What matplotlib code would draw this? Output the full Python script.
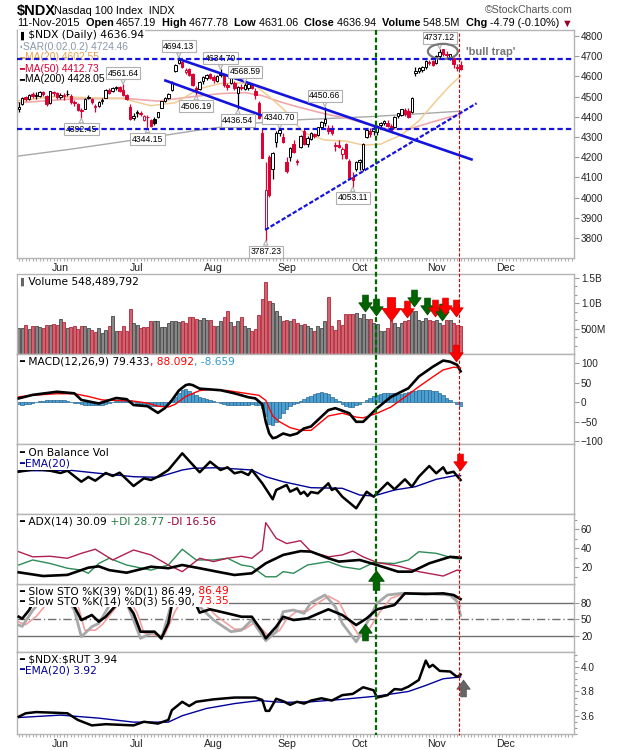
import numpy as np
import pandas as pd
import matplotlib
matplotlib.use('Agg')
import matplotlib.pyplot as plt
import matplotlib.transforms as mtransforms
from matplotlib.path import Path
from matplotlib.patches import Ellipse
from matplotlib.lines import Line2D
from matplotlib.ticker import FixedLocator, MultipleLocator

plt.rcParams['font.family'] = ['DejaVu Sans']

# trading calendar (NYSE holidays in the window)
holidays = ['2015-05-25', '2015-07-03', '2015-09-07', '2015-11-26', '2015-12-25']
cal = pd.bdate_range('2015-05-13', '2015-12-31')
cal = cal[~cal.isin(pd.to_datetime(holidays))]

# daily $NDX candles, 13-May-2015 .. 11-Nov-2015
opens = [4440, 4465, 4500, 4490, 4512, 4505, 4505, 4522, 4505, 4470,
         4520, 4520, 4500, 4505, 4512, 4505, 4475, 4465, 4432, 4440,
         4495, 4490, 4450, 4455, 4478, 4495, 4535, 4530, 4545, 4548,
         4535, 4510, 4450, 4395, 4425, 4420, 4385, 4400, 4385, 4390,
         4400, 4445, 4480, 4495, 4535, 4625, 4665, 4672, 4620, 4635,
         4610, 4545, 4540, 4575, 4590, 4610, 4595, 4578, 4615, 4605,
         4560, 4570, 4570, 4520, 4550, 4540, 4545, 4560, 4530, 4470,
         4320, 3850, 4200, 4140, 4275, 4320, 4300, 4175, 4200, 4265,
         4180, 4250, 4330, 4265, 4290, 4315, 4310, 4350, 4368, 4345,
         4345, 4260, 4262, 4215, 4265, 4180, 4100, 4140, 4175, 4140,
         4300, 4330, 4330, 4325, 4360, 4370, 4370, 4355, 4350, 4405,
         4410, 4435, 4430, 4425, 4615, 4625, 4630, 4645, 4670, 4675,
         4665, 4700, 4735, 4712, 4695, 4690, 4645, 4657.19]
highs = [4472, 4498, 4505, 4515, 4522, 4525, 4530, 4528, 4510, 4530,
         4528, 4525, 4520, 4520, 4532, 4515, 4485, 4470, 4445, 4495,
         4510, 4495, 4462, 4480, 4495, 4540, 4542, 4550, 4552, 4555,
         4561.64, 4515, 4465, 4420, 4432, 4428, 4410, 4410, 4390, 4398,
         4425, 4480, 4500, 4520, 4575, 4660, 4694.13, 4678, 4640, 4640,
         4615, 4555, 4575, 4600, 4610, 4615, 4605, 4605, 4634.70, 4610,
         4568, 4595, 4575, 4555, 4562, 4568.59, 4565, 4565, 4545, 4480,
         4340, 4175, 4210, 4225, 4330, 4340.70, 4320, 4200, 4250, 4285,
         4192, 4310, 4345, 4305, 4325, 4320, 4350, 4378, 4450.66, 4360,
         4360, 4275, 4285, 4250, 4270, 4190, 4125, 4180, 4190, 4270,
         4340, 4345, 4355, 4360, 4375, 4385, 4385, 4365, 4405, 4420,
         4440, 4442, 4445, 4500, 4645, 4648, 4652, 4680, 4682, 4680,
         4705, 4737.12, 4736, 4725, 4712, 4695, 4660, 4677.78]
lows = [4425, 4460, 4480, 4485, 4495, 4490, 4500, 4505, 4455, 4465,
        4505, 4490, 4490, 4485, 4505, 4465, 4455, 4430, 4392.45, 4438,
        4488, 4465, 4425, 4448, 4462, 4492, 4515, 4525, 4532, 4525,
        4505, 4485, 4385, 4385, 4400, 4405, 4380, 4344.15, 4350, 4360,
        4395, 4442, 4475, 4490, 4530, 4620, 4660, 4640, 4610, 4600,
        4555, 4506.19, 4535, 4565, 4580, 4585, 4570, 4572, 4595, 4550,
        4535, 4565, 4535, 4436.54, 4535, 4535, 4535, 4540, 4490, 4390,
        4195, 3787.23, 4005, 4090, 4250, 4305, 4270, 4120, 4180, 4220,
        4160, 4245, 4262, 4250, 4285, 4295, 4305, 4345, 4355, 4315,
        4310, 4230, 4245, 4190, 4190, 4090, 4053.11, 4130, 4135, 4130,
        4295, 4300, 4310, 4310, 4350, 4362, 4350, 4325, 4345, 4395,
        4405, 4405, 4395, 4420, 4600, 4615, 4620, 4635, 4655, 4650,
        4660, 4690, 4700, 4688, 4680, 4640, 4625, 4631.06]
closes = [4450, 4495, 4490, 4510, 4505, 4508, 4525, 4512, 4462, 4527,
          4520, 4497, 4510, 4505, 4515, 4475, 4468, 4435, 4430, 4490,
          4500, 4475, 4455, 4475, 4485, 4535, 4520, 4545, 4548, 4530,
          4510, 4490, 4390, 4405, 4418, 4412, 4405, 4398, 4355, 4368,
          4422, 4478, 4495, 4512, 4570, 4655, 4680, 4645, 4632, 4605,
          4560, 4530, 4572, 4595, 4605, 4590, 4580, 4600, 4605, 4558,
          4550, 4592, 4545, 4550, 4545, 4560, 4562, 4545, 4510, 4395,
          4197, 4040, 4013, 4220, 4322, 4335, 4275, 4130, 4248, 4228,
          4175, 4305, 4265, 4295, 4322, 4305, 4348, 4375, 4390, 4330,
          4318, 4258, 4250, 4240, 4198, 4095, 4088, 4175, 4185, 4265,
          4335, 4315, 4340, 4355, 4370, 4380, 4355, 4335, 4400, 4418,
          4438, 4415, 4400, 4495, 4625, 4640, 4645, 4678, 4665, 4655,
          4700, 4722, 4710, 4705, 4710, 4662, 4641.73, 4636.94]
# volume, millions of shares
volumes = [513, 513, 578, 494, 546, 559, 533, 513, 578, 578,
           598, 578, 689, 630, 513, 533, 546, 494, 559, 546,
           513, 480, 428, 513, 415, 480, 546, 741, 461, 461,
           546, 461, 885, 611, 578, 513, 533, 527, 656, 643,
           656, 533, 533, 611, 643, 643, 624, 643, 611, 721,
           728, 689, 676, 708, 676, 663, 559, 546, 656, 721,
           852, 624, 559, 643, 721, 559, 513, 461, 494, 774,
           1081, 1428, 1036, 1003, 839, 741, 643, 676, 643, 690,
           620, 580, 600, 560, 513, 448, 546, 513, 643, 1133,
           546, 480, 676, 578, 794, 794, 794, 803, 705, 794,
           689, 689, 611, 600, 448, 448, 513, 676, 611, 533,
           611, 643, 676, 839, 839, 676, 643, 708, 663, 643,
           676, 611, 578, 676, 676, 611, 578, 548.489792]

# price overlays (day index, value)
ma20_day = [0, 10, 20, 30, 38, 45, 52, 58, 64, 68, 72, 76, 82, 88, 94, 99, 104, 110, 115, 120, 124, 127]
ma20_val = [4480, 4500, 4495, 4490, 4455, 4470, 4540, 4565, 4568, 4555, 4500, 4440, 4320, 4285, 4280, 4260,
            4265, 4310, 4380, 4480, 4555, 4602.55]
ma50_day = [0, 15, 30, 40, 50, 58, 65, 70, 75, 80, 88, 95, 100, 106, 112, 118, 123, 127]
ma50_val = [4470, 4488, 4492, 4478, 4500, 4515, 4520, 4505, 4475, 4450, 4415, 4390, 4365, 4340, 4338, 4370,
            4395, 4412.73]
ma200_day = [0, 15, 33, 52, 65, 80, 100, 115, 127]
ma200_val = [4206, 4240, 4285, 4335, 4365, 4385, 4400, 4415, 4428.05]
sar_last = 4724.46

# swing labels
peak_days = [30, 46, 58, 65, 75, 88, 121]
trough_days = [18, 37, 51, 63, 71, 96]

# hand-drawn lines
hline_vals = [4684, 4338]
tl_down_day, tl_down_val = [46.4, 130.5], [4684, 4187]
tl_chan_day, tl_chan_val = [41.8, 71.3], [4582, 4398]
tl_up_day, tl_up_val = [70.8, 131.6], [3840, 4467]
green_day, red_day = 102.7, 126.6
trap_day, trap_val = 121.9, 4724

# MACD(12,26,9)
macd_day = [0, 4, 11, 16, 18, 23, 28, 31, 33, 37, 40, 42, 44, 46, 48, 49, 50, 52, 58, 62, 66, 68, 70, 71, 72, 73,
            74, 76, 78, 80, 82, 84, 89, 91, 95, 97, 99, 103, 107, 112, 115, 119, 122, 124, 126, 127]
macd_val = [10, 19, 27, 23, 6, -3, 11, 8, -7, -10, -27, -15, 5, 30, 44, 46, 44, 35, 31, 23, 13, 10, -5, -50, -80,
            -92, -90, -80, -85, -80, -67, -62, -20, -15, -28, -50, -50, -15, 14, 36, 66, 91, 107, 104, 96, 79.433]
signal_day = [0, 4, 11, 16, 20, 24, 28, 33, 37, 40, 43, 45, 48, 52, 55, 60, 66, 69, 71, 73, 75, 78, 81, 84, 89,
              93, 97, 99, 103, 107, 112, 115, 119, 122, 125, 127]
signal_val = [14, 18, 22, 22, 15, 6, 5, 3, -2, -10, -12, -5, 15, 30, 33, 30, 22, 18, 5, -35, -50, -65, -72, -72,
              -35, -28, -38, -40, -28, -12, 20, 40, 65, 83, 90, 88.092]
macd_hist = [-5, -6, -5, -4, -2,
             1, 3, 4, 5, 5, 6, 6, 5, 5, 4,
             2, -1, -3, -5, -6, -7, -8, -8, -7, -6, -5, -3,
             0, 3, 5, 7, 7, 5, 1,
             -3, -5, -7, -8, -9, -10, -10, -9, -6,
             -2, 5, 14, 24, 32, 35, 30, 24,
             18, 14, 12, 8, 5, 3, 1,
             -2, -4, -6, -7, -8, -8, -7, -7, -6, -5, -6, -8, -15,
             -35, -55, -58, -50, -40, -28,
             -18, -10, -5, -1, 3, 8, 14,
             16, 20, 24, 27, 25, 20,
             14, 8, 3,
             -5, -10, -12, -11, -8, -4,
             2, 6, 10,
             15, 18, 21, 23, 24, 24, 23, 22, 22,
             24, 26, 28, 30, 31, 32, 32, 31, 30,
             28, 24, 18, 12, 7,
             0, -5, -8.659]

# On Balance Volume (billions, relative) and its EMA(20)
obv_day = [0, 2, 5, 9, 12, 14, 18, 20, 22, 25, 27, 29, 33, 36, 38, 40, 43, 47, 52, 55, 58, 60, 62, 64, 66, 67,
           70, 73, 74, 77, 78, 80, 81, 82, 83, 84, 86, 89, 90, 91, 93, 97, 100, 102, 106, 108, 111, 113, 115,
           118, 120, 122, 123, 125, 126, 127]
obv_val = [4.23, 4.33, 4.5, 4.33, 4.1, 4.33, 3.23, 3.7, 3.33, 4.1, 3.8, 4.13, 2.8, 3.57, 3.4, 3.73, 4.4, 6.07,
           4.17, 5.23, 4.4, 4.67, 4.07, 4.23, 3.9, 4.4, 3.07, 1.47, 2.4, 2.9, 2.23, 2.57, 2.0, 2.23, 1.8, 2.2,
           2.07, 3.07, 2.4, 2.57, 1.73, 0.57, 2.23, 1.73, 3.13, 2.47, 3.47, 2.73, 3.73, 4.8, 4.07, 4.67, 4.07,
           4.23, 3.8, 3.4]
obv_ema_day = [0, 9, 14, 23, 33, 40, 47, 50, 57, 67, 71, 76, 84, 93, 98, 102, 108, 114, 120, 126, 127]
obv_ema_val = [4.33, 4.33, 4.4, 4.07, 3.73, 3.67, 4.4, 4.57, 4.63, 4.4, 3.73, 3.23, 2.63, 2.57, 1.9, 1.8, 2.4,
               2.73, 3.47, 3.88, 3.83]

# ADX(14)
adx_day = [0, 7, 14, 20, 23, 26, 31, 38, 43, 47, 52, 57, 62, 67, 71, 76, 81, 84, 89, 92, 98, 103, 109, 113,
           118, 124, 127]
adx_val = [14.7, 10.8, 12, 19.6, 21, 17, 14.3, 20.6, 19, 22.4, 19, 15.4, 11.9, 13.7, 24.2, 33, 37, 36.5, 29.5,
           26, 27.7, 22.4, 15.4, 15.4, 24.2, 31, 30.09]
pdi_day = [0, 4, 9, 14, 18, 20, 23, 26, 31, 38, 43, 47, 51, 56, 60, 64, 67, 71, 74, 76, 79, 83, 89, 93, 98,
           102, 108, 112, 115, 120, 125, 127]
pdi_val = [22.4, 27.7, 24, 19, 17, 13.7, 24, 29.5, 22.4, 17, 22.4, 39, 27.7, 27.7, 29.5, 22.4, 20.6, 10, 10,
           15.4, 13.7, 22.4, 26, 20.6, 17.9, 24.9, 24, 27.7, 36.4, 34.7, 29.5, 28.77]
mdi_day = [0, 4, 9, 14, 18, 22, 27, 33, 38, 43, 47, 52, 56, 60, 64, 67, 70, 71, 74, 77, 81, 84, 89, 93, 96,
           99, 103, 109, 115, 122, 126, 127]
mdi_val = [36.4, 31, 31.6, 29.5, 34.7, 39, 27.7, 38.2, 33, 22.4, 15.4, 29.5, 26, 29.5, 31.6, 29.5, 38.2, 67,
           50.5, 45, 48, 36.4, 31, 33, 37, 31, 25, 21.4, 15.4, 10.8, 17, 16.56]

# Slow stochastics
k39_day = [0, 1, 3, 4, 7, 12, 16, 18, 21, 23, 25, 28, 30, 33, 35, 39, 41, 43, 44, 46, 50, 52, 55, 60, 64, 67,
           70, 71, 74, 76, 79, 83, 84, 89, 93, 97, 100, 103, 108, 111, 117, 122, 125, 127]
k39_val = [54.5, 51, 66.7, 79, 92, 92, 72.7, 48.5, 57.6, 45.5, 54.5, 75.8, 88, 60.6, 27.3, 27.3, 15.2, 42.4,
           76, 95, 90, 62, 68, 60.6, 54.5, 54.5, 27.3, 15.2, 36.4, 54.5, 48.5, 51.5, 54.5, 68, 57.6, 39.4,
           51.5, 68, 75.8, 97, 95.8, 97, 94, 86.49]
k14_day = [0, 1, 4, 8, 13, 16, 18, 21, 23, 27, 30, 33, 35, 39, 41, 44, 47, 52, 56, 61, 64, 67, 71, 74, 76, 79,
           82, 84, 88, 91, 93, 97, 99, 103, 106, 110, 117, 124, 126, 127]
k14_val = [39.4, 37, 66, 95, 95, 66, 18.2, 36.4, 42.4, 85, 95, 48.5, 15.2, 27.3, 14, 80, 98, 72.7, 48.5, 27.3,
           30, 48.5, 11, 27.3, 63.6, 66.7, 60.6, 80, 94, 72.7, 42.4, 9, 30, 79, 94, 97, 97, 94, 82, 56.9]
d3_day = [0, 2, 5, 9, 14, 17, 19, 22, 24, 28, 31, 34, 36, 40, 42, 45, 48, 53, 57, 62, 65, 68, 72, 75, 77, 80,
          83, 85, 89, 92, 94, 98, 100, 104, 107, 111, 118, 125, 127]
d3_val = [45, 40, 55, 85, 95, 75, 30, 30, 40, 72, 92, 62, 25, 20, 22, 65, 95, 80, 55, 32, 32, 45, 18, 30, 50,
          65, 65, 75, 92, 82, 58, 18, 25, 65, 88, 97, 96, 93, 73.35]

# $NDX:$RUT ratio and EMA(20)
rat_day = [0, 2, 5, 10, 14, 17, 21, 25, 29, 33, 36, 40, 43, 44, 47, 49, 51, 56, 62, 68, 70, 71, 72, 74, 76, 78,
           80, 82, 84, 87, 90, 93, 96, 99, 102, 103, 106, 108, 110, 112, 115, 117, 118, 119, 121, 124, 126, 127]
rat_val = [3.592, 3.62, 3.63, 3.625, 3.62, 3.565, 3.52, 3.53, 3.525, 3.52, 3.55, 3.535, 3.565, 3.645, 3.715,
           3.68, 3.715, 3.735, 3.75, 3.75, 3.73, 3.64, 3.64, 3.74, 3.72, 3.69, 3.715, 3.70, 3.725, 3.744, 3.725,
           3.77, 3.78, 3.835, 3.81, 3.75, 3.77, 3.82, 3.815, 3.84, 3.895, 4.055, 4.0, 4.02, 3.97, 3.965, 3.92, 3.94]
rat_ema_day = [0, 12, 23, 33, 43, 47, 54, 62, 69, 76, 84, 93, 103, 112, 117, 122, 127]
rat_ema_val = [3.585, 3.605, 3.58, 3.547, 3.547, 3.6, 3.66, 3.70, 3.725, 3.71, 3.715, 3.735, 3.762, 3.80, 3.85,
               3.905, 3.92]

# signal arrows: (day, level, colour, size)
vol_arrows = [(99.5, 1010, 'g', 12), (102.7, 930, 'g', 12), (107.0, 880, 'r', 17), (111.6, 890, 'r', 12),
              (113.6, 1110, 'g', 12), (117.3, 950, 'g', 12), (119.6, 910, 'r', 12), (121.6, 830, 'g', 12),
              (122.5, 950, 'r', 12), (125.6, 910, 'r', 12)]

W, H = 620, 750
L, R = 17, 574
RED = '#dd0033'
BLUE = '#1414dc'
SANS = ['DejaVu Sans']
ARIAL = ['Liberation Sans', 'DejaVu Sans']
fig = plt.figure(figsize=(W / 100, H / 100), dpi=100)


def panel(top, bot):
    return fig.add_axes([L / W, 1 - bot / H, (R - L) / W, (bot - top) / H])


axp = panel(30, 258)
axv = panel(274, 354)
axm = panel(354, 444)
axo = panel(444, 514)
axa = panel(514, 584)
axs = panel(584, 652)
axr = panel(652, 734)
allax = [axp, axv, axm, axo, axa, axs, axr]
axa.set_zorder(1)   # lets the ADX arrow overhang the stochastics panel

n = len(closes)
d = np.arange(n)
month_idx = [i for i in range(1, len(cal)) if cal[i].month != cal[i - 1].month]
month_lbl = [cal[i].strftime('%b') for i in month_idx]

for ax in allax:
    ax.set_xlim(-0.5, 159.6)
    ax.set_facecolor('white')
    for s in ax.spines.values():
        s.set_color('#b4b4b4')
        s.set_linewidth(1)
    ax.yaxis.tick_right()
    ax.tick_params(axis='x', which='both', bottom=False, top=False, labelbottom=False)
    ax.tick_params(axis='y', which='both', right=True, left=False, direction='out', length=3.5,
                   width=0.8, color='#9a9a9a', labelsize=7.2, labelcolor='#222222', pad=1.5,
                   labelfontfamily='Liberation Sans')
    ax.tick_params(axis='y', which='minor', length=2)

for ax in (axp, axr):
    ax.set_xticks(month_idx)
    ax.set_xticklabels(month_lbl)
    ax.set_xticks(np.arange(0, 160), minor=True)
    ax.tick_params(axis='x', which='both', bottom=True, labelbottom=True, direction='out', length=2.5,
                   width=0.8, color='#b0b0b0', labelsize=7.6, labelcolor='#222222', pad=0.8,
                   labelfontfamily='Liberation Sans')


def chain(ax, x, y, parts, size=7.7, family=SANS, bg=True, z=20):
    prev = None
    for s, col, wt in parts:
        kw = dict(fontsize=size, color=col, fontweight=wt, family=family, va='center', ha='left',
                  zorder=z, annotation_clip=False)
        if bg:
            kw['bbox'] = dict(fc='white', ec='none', pad=0.4)
        if prev is None:
            prev = ax.annotate(s, xy=(x / W, 1 - y / H), xycoords='figure fraction', **kw)
        else:
            prev = ax.annotate(s, xy=(1, 0.5), xycoords=prev, **kw)
    return prev


# ---------------- header
chain(axp, 17, 10.5, [('$NDX', 'black', 'bold')], size=10.5, family=ARIAL, bg=False)
chain(axp, 54, 11, [('Nasdaq 100 Index  INDX', 'black', 'normal')], size=7.8, family=ARIAL, bg=False)
chg = closes[-1] - closes[-2]
pct = chg / closes[-2] * 100
hdr = [(cal[n - 1].strftime('%d-%b-%Y'), 'black', 'normal'),
       ('  Open', 'black', 'bold'), (f' {opens[-1]:.2f}', 'black', 'normal'),
       ('  High', 'black', 'bold'), (f' {highs[-1]:.2f}', 'black', 'normal'),
       ('  Low', 'black', 'bold'), (f' {lows[-1]:.2f}', 'black', 'normal'),
       ('  Close', 'black', 'bold'), (f' {closes[-1]:.2f}', 'black', 'normal'),
       ('  Volume', 'black', 'bold'), (f' {volumes[-1]:.1f}M', 'black', 'normal'),
       ('  Chg', 'black', 'bold'), (f' {chg:.2f} ({pct:.2f}%)', 'black', 'normal'),
       (' \u25bc', '#990022', 'normal')]
chain(axp, 17, 23.5, hdr, size=7.8, family=ARIAL, bg=False)
axp.annotate('\u00a9StockCharts.com', xy=(573 / W, 1 - 10 / H), xycoords='figure fraction', ha='right',
             va='center', fontsize=7.6, color='#555555', family=ARIAL, annotation_clip=False)

# ---------------- price panel
o, hi, lo, c = (np.array(a, float) for a in (opens, highs, lows, closes))
prev_c = np.r_[o[0], c[:-1]]
is_down = c < prev_c
cc = np.where(is_down, RED, 'black')
face = np.where(c >= o, 'white', cc)
axp.plot(ma200_day, ma200_val, color='#a8a8a8', lw=1, zorder=2)
axp.plot(ma50_day, ma50_val, color='#f0a8ac', lw=1.2, zorder=2)
axp.plot(ma20_day, ma20_val, color='#f2cc94', lw=1.1, zorder=2)
axp.vlines(d, lo, hi, colors=cc, lw=0.9, zorder=3)
axp.bar(d, np.maximum(np.abs(c - o), 3), bottom=np.minimum(o, c), width=0.7, color=face, edgecolor=cc,
        linewidth=0.7, zorder=4)
axp.set_ylim(3701, 4830)
axp.yaxis.set_major_locator(FixedLocator(range(3800, 4801, 100)))

for v in hline_vals:
    axp.axhline(v, color=BLUE, lw=1.6, ls=(0, (2.4, 1.4)), zorder=25)
axp.plot(tl_down_day, tl_down_val, color=BLUE, lw=1.9, zorder=8, solid_capstyle='butt')
axp.plot(tl_chan_day, tl_chan_val, color=BLUE, lw=1.9, zorder=8, solid_capstyle='butt')
axp.plot(tl_up_day, tl_up_val, color=BLUE, lw=1.6, ls=(0, (2, 0.9)), zorder=8)

lbl_kw = dict(textcoords='offset pixels', ha='center', va='center', fontsize=6.2, family=ARIAL,
              zorder=9, annotation_clip=False,
              bbox=dict(boxstyle='square,pad=0.18', fc='white', ec='#b0b0b0', lw=0.8),
              arrowprops=dict(arrowstyle='wedge,tail_width=0.5', fc='white', ec='#b0b0b0', lw=0.8,
                              shrinkA=0, shrinkB=0))
for i in peak_days:
    axp.annotate(f'{highs[i]:.2f}', xy=(i, highs[i]), xytext=(0, 11), **lbl_kw)
for i in trough_days:
    axp.annotate(f'{lows[i]:.2f}', xy=(i, lows[i]), xytext=(0, -11), **lbl_kw)

axp.add_patch(Ellipse((trap_day, trap_val), 8.6, 75, fill=False, ec='#777777', lw=1.6, zorder=12))
axp.text(trap_day + 6.8, trap_val - 3, "'bull trap'", fontsize=8, fontweight='bold', color='#777777',
         family=ARIAL, va='center', ha='left', zorder=12)

chain(axp, 19, 35.5, [('\u25ae', 'black', 'normal'), (f' $NDX (Daily) {closes[-1]:.2f}', 'black', 'normal')])
chain(axp, 19, 46.5, [('\u25aa', '#8a98a8', 'normal'), (f'SAR(0.02,0.2) {sar_last:.2f}', '#8a98a8', 'normal')],
      size=7.4, family=ARIAL)
chain(axp, 19, 57.5, [('\u2501', '#e6a046', 'normal'), (f'MA(20) {ma20_val[-1]:.2f}', '#e6a046', 'normal')],
      size=7.4, family=ARIAL)
chain(axp, 19, 68.5, [('\u2501', RED, 'normal'), (f'MA(50) {ma50_val[-1]:.2f}', RED, 'normal')],
      size=7.4, family=ARIAL)
chain(axp, 19, 79.5, [('\u2501', 'black', 'normal'), (f'MA(200) {ma200_val[-1]:.2f}', 'black', 'normal')],
      size=7.4, family=ARIAL)

# ---------------- markers for signal arrows
arrow_dn = Path([(-0.42, 1.25), (0.42, 1.25), (0.42, 0.1), (1.0, 0.1), (0.0, -1.25), (-1.0, 0.1),
                 (-0.42, 0.1), (-0.42, 1.25)], closed=True)
arrow_up = Path([(x, -y) for x, y in arrow_dn.vertices], closed=True)
acol = {'g': ('#006400', '#004d00'), 'r': ('#ff0000', '#dd0000'), 'k': ('#666666', '#555555')}


def arrow(ax, x, y, kind, size, up=False):
    fc, ec = acol[kind]
    ax.plot([x], [y], marker=arrow_up if up else arrow_dn, ms=size, mfc=fc, mec=ec, mew=0.6, ls='none',
            clip_on=False, zorder=15)


# ---------------- volume
vfc = np.where(is_down, '#d0646e', '#878787')
vec = np.where(is_down, '#b3243c', '#474747')
axv.bar(d, volumes, width=0.86, color=vfc, edgecolor=vec, linewidth=0.6, zorder=2)
axv.set_ylim(0, 1578)
axv.yaxis.set_major_locator(FixedLocator([500, 1000, 1500]))
axv.set_yticklabels(['500M', '1.0B', '1.5B'])
axv.yaxis.set_minor_locator(FixedLocator([167, 333, 667, 833, 1167, 1333]))
for x, y, k, s in vol_arrows:
    arrow(axv, x, y, k, s)
chain(axv, 19, 282, [('\u25ae', '#666666', 'normal'), (f' Volume {volumes[-1] * 1e6:,.0f}', 'black', 'normal')])

# ---------------- MACD
hc = '#4a9fd0'
axm.bar(d, macd_hist, width=1.0, color=hc, edgecolor='#2a6a96', linewidth=0.5, zorder=2)
axm.plot(signal_day, signal_val, color='#ff0000', lw=1, zorder=3)
axm.plot(macd_day, macd_val, color='black', lw=1.9, zorder=4)
axm.set_ylim(-106.9, 123.8)
axm.yaxis.set_major_locator(FixedLocator([-100, -50, 0, 50, 100]))
arrow(axm, 125.7, 127.5, 'r', 12)
chain(axm, 19, 361.5, [('\u2501', 'black', 'normal'), (f' MACD(12,26,9) {macd_val[-1]:.3f}', 'black', 'normal'),
                       (f', {signal_val[-1]:.3f}', '#ff0000', 'normal'),
                       (f', {macd_hist[-1]:.3f}', '#3399cc', 'normal')])

# ---------------- OBV
axo.plot(obv_ema_day, obv_ema_val, color='#000099', lw=1, zorder=3)
axo.plot(obv_day, obv_val, color='black', lw=1.8, zorder=4)
axo.set_ylim(0, 7.0)
axo.yaxis.set_major_locator(FixedLocator([]))
arrow(axo, 126.7, 5.25, 'r', 12)
chain(axo, 19, 453, [('\u2501', 'black', 'normal'), (' On Balance Vol', 'black', 'normal')])
chain(axo, 19, 464, [('\u2501', '#000099', 'normal'), ('EMA(20)', '#000099', 'normal')])

# ---------------- ADX
axa.plot(pdi_day, pdi_val, color='#2e8b57', lw=1, zorder=3)
axa.plot(mdi_day, mdi_val, color='#b0204e', lw=1, zorder=3)
axa.plot(adx_day, adx_val, color='black', lw=1.9, zorder=4)
axa.set_ylim(2.4, 76.1)
axa.yaxis.set_major_locator(FixedLocator([20, 40, 60]))
axa.yaxis.set_minor_locator(MultipleLocator(10))
arrow(axa, 102.7, 6.6, 'g', 14, up=True)
chain(axa, 19, 522, [('\u2501', 'black', 'normal'), (f' ADX(14) {adx_val[-1]:.2f}', 'black', 'normal'),
                     (f' +DI {pdi_val[-1]:.2f}', '#1f7a3e', 'normal'),
                     (f' -DI {mdi_val[-1]:.2f}', '#990033', 'normal')])

# ---------------- Slow stochastics
for lvl, st in ((80, '-'), (20, '-'), (50, (0, (6, 2, 1, 2)))):
    axs.axhline(lvl, color='#707070', lw=1, ls=st, zorder=1)
axs.plot(d3_day, d3_val, color='#f4a0a0', lw=1.2, zorder=2)
axs.plot(k14_day, k14_val, color='#a8a8a8', lw=2, zorder=3)
axs.plot(k39_day, k39_val, color='black', lw=1.9, zorder=4)
axs.set_ylim(-9.6, 114)
axs.yaxis.set_major_locator(FixedLocator([20, 50, 80]))
arrow(axs, 99.6, 27.6, 'g', 12, up=True)
chain(axs, 19, 591.5, [('\u2501', 'black', 'normal'),
                       (f' Slow STO %K(39) %D(1) {k39_val[-1]:.2f},', 'black', 'normal'),
                       (f' {k39_val[-1]:.2f}', '#ff0000', 'normal')])
chain(axs, 19, 601.5, [('\u2501', 'black', 'normal'),
                       (f' Slow STO %K(14) %D(3) {k14_val[-1]:.2f},', 'black', 'normal'),
                       (f' {d3_val[-1]:.2f}', '#ff0000', 'normal')])

# ---------------- $NDX:$RUT
axr.plot(rat_ema_day, rat_ema_val, color='#000099', lw=1, zorder=3)
axr.plot(rat_day, rat_val, color='black', lw=1.8, zorder=4)
axr.set_ylim(3.449, 4.126)
axr.yaxis.set_major_locator(FixedLocator([3.6, 3.8, 4.0]))
axr.set_yticklabels(['3.6', '3.8', '4.0'])
axr.yaxis.set_minor_locator(MultipleLocator(0.05))
arrow(axr, 127.7, 3.825, 'k', 12, up=True)
chain(axr, 19, 660, [('\u2501', 'black', 'normal'), (f' \\$NDX:\\$RUT {rat_val[-1]:.2f}', 'black', 'normal')])
chain(axr, 19, 670.5, [('\u2501', '#000099', 'normal'), (f'EMA(20) {rat_ema_val[-1]:.2f}', '#000099', 'normal')])

# ---------------- vertical markers across all panels
tr = mtransforms.blended_transform_factory(axp.transData, fig.transFigure)
fig.add_artist(Line2D([green_day, green_day], [1 - 30 / H, 1 - 735 / H], transform=tr, color='#006600',
                      lw=1.6, ls=(0, (2.2, 1.2)), zorder=30))
fig.add_artist(Line2D([red_day, red_day], [1 - 33 / H, 1 - 735 / H], transform=tr, color='#e00000',
                      lw=0.8, ls=(0, (3, 1.6)), zorder=30))

fig.savefig('out.png', dpi=100)
